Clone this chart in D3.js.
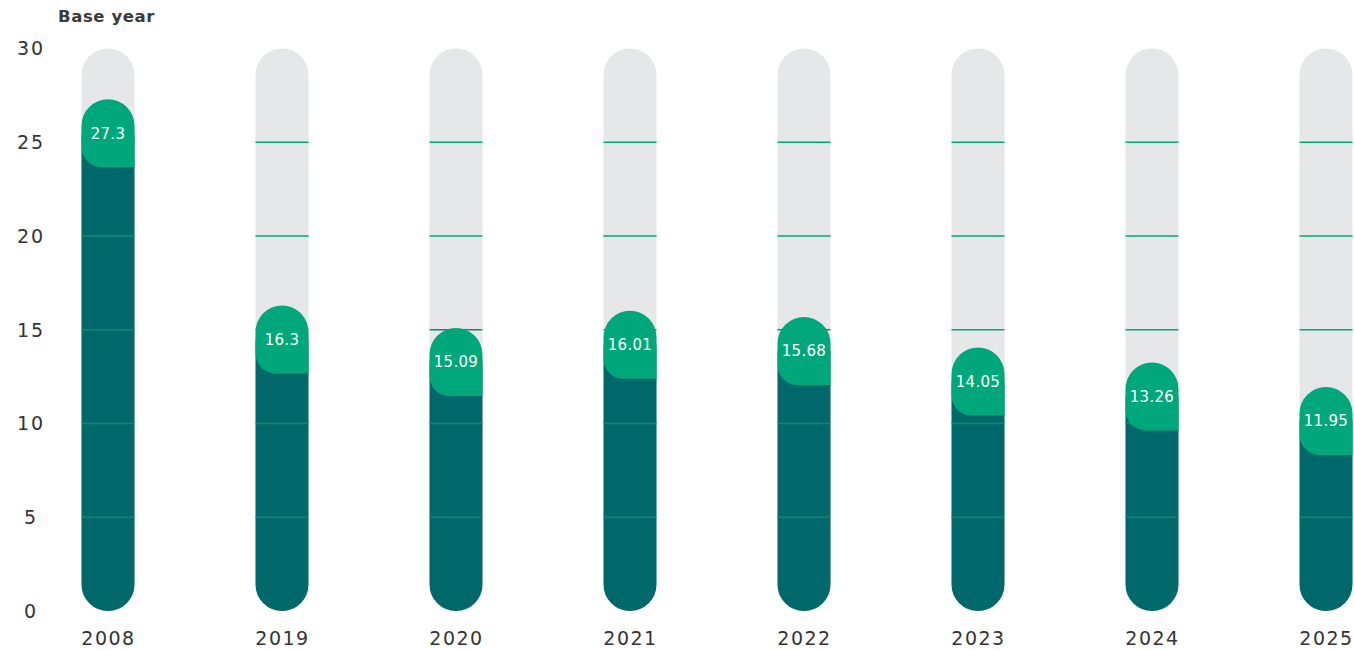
<!DOCTYPE html>
<html>
<head>
<meta charset="utf-8">
<script src="https://cdn.jsdelivr.net/npm/d3@7"></script>
<style>
  body { margin: 0; background: #fff; }
  text { font-family: "DejaVu Sans", sans-serif; fill: #333; }
</style>
</head>
<body>
<div id="chart"></div>
<script>
// data
var years = ["2008", "2019", "2020", "2021", "2022", "2023", "2024", "2025"];
var values = [27.3, 16.3, 15.09, 16.01, 15.68, 14.05, 13.26, 11.95];
var valueLabels = ["27.3", "16.3", "15.09", "16.01", "15.68", "14.05", "13.26", "11.95"];
var yTicks = [0, 5, 10, 15, 20, 25, 30];

var svgWidth = 1354;
var svgHeight = 650;
var barWidth = 53;
var capHeight = 68;

var svg = d3.select("#chart").append("svg")
  .attr("width", svgWidth)
  .attr("height", svgHeight);

var x = d3.scalePoint().domain(years).range([108, 1326]);
var y = d3.scaleLinear().domain([0, 30]).range([611, 48.5]);

var data = years.map(function(yr, i) {
  return { year: yr, value: values[i], label: valueLabels[i] };
});

// y axis labels
svg.append("g").selectAll("text")
  .data(yTicks)
  .enter().append("text")
  .attr("x", 31)
  .attr("y", d => y(d))
  .attr("dy", "0.36em")
  .attr("text-anchor", "middle")
  .style("font-size", "19px")
  .style("letter-spacing", "2px")
  .text(d => d);

svg.append("text")
  .attr("x", 58)
  .attr("y", 22)
  .style("font-size", "16.5px")
  .style("font-weight", "bold")
  .style("letter-spacing", "0.6px")
  .style("fill", "#3a3a3a")
  .text("Base year");

var r = barWidth / 2;

// path for a vertical pill between top and bottom y
function pill(cx, top, bottom) {
  var l = cx - r, rt = cx + r;
  return "M" + l + "," + (top + r) +
    "A" + r + "," + r + " 0 0 1 " + rt + "," + (top + r) +
    "L" + rt + "," + (bottom - r) +
    "A" + r + "," + r + " 0 0 1 " + l + "," + (bottom - r) + "Z";
}

// cap: round top, rounded bottom-left, square bottom-right
function cap(cx, top, h) {
  var l = cx - r, rt = cx + r, b = top + h, c = 20;
  return "M" + l + "," + (top + r) +
    "A" + r + "," + r + " 0 0 1 " + rt + "," + (top + r) +
    "L" + rt + "," + b +
    "L" + (l + c) + "," + b +
    "A" + c + "," + c + " 0 0 1 " + l + "," + (b - c) + "Z";
}

var bars = svg.append("g").selectAll("g")
  .data(data)
  .enter().append("g");

// background track
bars.append("path")
  .attr("d", d => pill(x(d.year), y(30), y(0)))
  .attr("fill", "#e6e7e9");

// dark value bar
bars.append("path")
  .attr("d", d => pill(x(d.year), y(d.value) + 10, y(0)))
  .attr("fill", "#00676a");

// gridlines inside the bars
bars.each(function(d) {
  var g = d3.select(this);
  [5, 10, 15, 20, 25].forEach(function(t) {
    var inDark = t < d.value;
    g.append("line")
      .attr("x1", x(d.year) - r)
      .attr("x2", x(d.year) + r)
      .attr("y1", y(t))
      .attr("y2", y(t))
      .attr("stroke", inDark ? "#0b8c72" : "#00a878")
      .attr("stroke-width", 1.3);
  });
});

// green cap
bars.append("path")
  .attr("d", d => cap(x(d.year), y(d.value), capHeight))
  .attr("fill", "#00a77a");

bars.append("text")
  .attr("x", d => x(d.year))
  .attr("y", d => y(d.value) + 34)
  .attr("dy", "0.36em")
  .attr("text-anchor", "middle")
  .style("font-size", "15px")
  .style("fill", "#fff")
  .style("letter-spacing", "0.3px")
  .text(d => d.label);

// year labels
svg.append("g").selectAll("text")
  .data(years)
  .enter().append("text")
  .attr("x", d => x(d) + 0.5)
  .attr("y", 645)
  .attr("text-anchor", "middle")
  .style("font-size", "19px")
  .style("letter-spacing", "1.5px")
  .text(d => d);
</script>
</body>
</html>
